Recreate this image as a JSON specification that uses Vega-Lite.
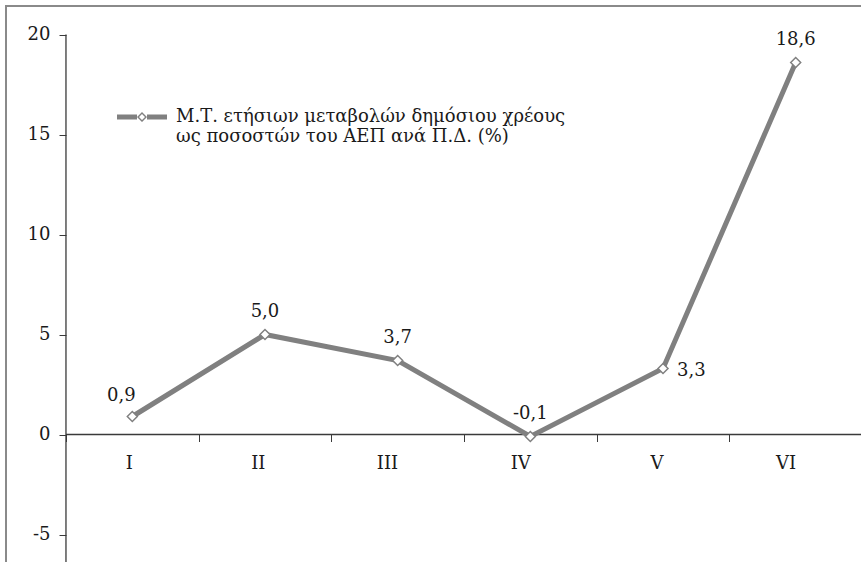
{
  "$schema": "https://vega.github.io/schema/vega-lite/v6.json",
  "width": 916,
  "height": 560,
  "autosize": {"type": "none"},
  "padding": {"left": 6, "top": 6, "right": 0, "bottom": 0},
  "background": "white",
  "config": {
    "locale": {"number": {"decimal": ",", "thousands": ".", "grouping": [3], "currency": ["", " €"], "minus": "-"}},
    "view": {"stroke": "#8a8a8a", "strokeWidth": 2},
    "font": "DejaVu Serif",
    "text": {"font": "DejaVu Serif"}
  },
  "data": {"values": [
    {"period": "I", "value": 0.9, "series": "s"},
    {"period": "II", "value": 5.0, "series": "s"},
    {"period": "III", "value": 3.7, "series": "s"},
    {"period": "IV", "value": -0.1, "series": "s"},
    {"period": "V", "value": 3.3, "series": "s"},
    {"period": "VI", "value": 18.6, "series": "s"}
  ]},
  "layer": [
    {
      "data": {"values": [{}]},
      "mark": {"type": "rule", "color": "#3a3a3a", "strokeWidth": 1.3},
      "encoding": {
        "x": {"datum": "I", "type": "ordinal", "bandPosition": 0},
        "y": {"datum": -6.575, "type": "quantitative"},
        "y2": {"datum": 20}
      }
    },
    {
      "data": {"values": [{}]},
      "mark": {"type": "rule", "color": "#3a3a3a", "strokeWidth": 1.3},
      "encoding": {
        "x": {"datum": "I", "type": "ordinal", "bandPosition": 0},
        "x2": {"datum": "VI", "bandPosition": 1},
        "y": {"datum": 0, "type": "quantitative"}
      }
    },
    {
      "mark": {"type": "line", "strokeWidth": 5},
      "encoding": {
        "x": {
          "field": "period", "type": "ordinal",
          "scale": {"domain": ["I", "II", "III", "IV", "V", "VI"], "paddingInner": 0, "paddingOuter": 0.452},
          "axis": {"title": null, "offset": -131.5, "domain": false, "tickBand": "extent", "tickSize": 7, "tickColor": "#3a3a3a", "labelPadding": 22, "labelFontSize": 18, "labelColor": "#1a1a1a", "labelAngle": 0, "grid": false}
        },
        "y": {
          "field": "value", "type": "quantitative",
          "scale": {"domain": [-6.575, 21.425], "nice": false, "zero": false},
          "axis": {"title": null, "values": [-5, 0, 5, 10, 15, 20], "offset": -60, "domain": false, "tickSize": 7, "tickColor": "#3a3a3a", "labelPadding": 9, "labelFontSize": 18, "labelColor": "#1a1a1a", "grid": false}
        },
        "color": {
          "field": "series", "type": "nominal",
          "scale": {"range": ["#808080"]},
          "legend": {
            "orient": "none", "legendX": 111, "legendY": 86, "title": null, "padding": 0,
            "symbolType": "M-1,-0.1H-0.2V0.1H-1Z M0.2,-0.1H1V0.1H0.2Z M0,-0.2L0.2,0L0,0.2L-0.2,0Z M0,-0.12L-0.12,0L0,0.12L0.12,0Z",
            "symbolSize": 2500, "symbolFillColor": "#808080", "symbolStrokeWidth": 0, "symbolStrokeColor": "#808080",
            "labelFontSize": 18, "labelOffset": 9, "labelLimit": 700, "labelColor": "#1a1a1a", "labelBaseline": "middle",
            "labelExpr": "['Μ.Τ. ετήσιων μεταβολών δημόσιου χρέους', 'ως ποσοστών του ΑΕΠ ανά Π.Δ. (%)']"
          }
        }
      }
    },
    {
      "mark": {"type": "point", "shape": "diamond", "filled": true, "fill": "white", "stroke": "#808080", "strokeWidth": 1.5, "size": 100, "opacity": 1},
      "encoding": {
        "x": {"field": "period", "type": "ordinal"},
        "y": {"field": "value", "type": "quantitative"}
      }
    },
    {
      "transform": [{"filter": "datum.period != 'V' && datum.period != 'I'"}],
      "mark": {"type": "text", "fontSize": 18, "color": "#1a1a1a", "baseline": "alphabetic", "dy": -18},
      "encoding": {
        "x": {"field": "period", "type": "ordinal"},
        "y": {"field": "value", "type": "quantitative"},
        "text": {"field": "value", "type": "quantitative", "format": ".1f"}
      }
    },
    {
      "transform": [{"filter": "datum.period == 'I'"}],
      "mark": {"type": "text", "fontSize": 18, "color": "#1a1a1a", "baseline": "alphabetic", "dy": -16, "dx": -11},
      "encoding": {
        "x": {"field": "period", "type": "ordinal"},
        "y": {"field": "value", "type": "quantitative"},
        "text": {"field": "value", "type": "quantitative", "format": ".1f"}
      }
    },
    {
      "transform": [{"filter": "datum.period == 'V'"}],
      "mark": {"type": "text", "fontSize": 18, "color": "#1a1a1a", "baseline": "middle", "align": "left", "dx": 14, "dy": 2},
      "encoding": {
        "x": {"field": "period", "type": "ordinal"},
        "y": {"field": "value", "type": "quantitative"},
        "text": {"field": "value", "type": "quantitative", "format": ".1f"}
      }
    }
  ]
}
